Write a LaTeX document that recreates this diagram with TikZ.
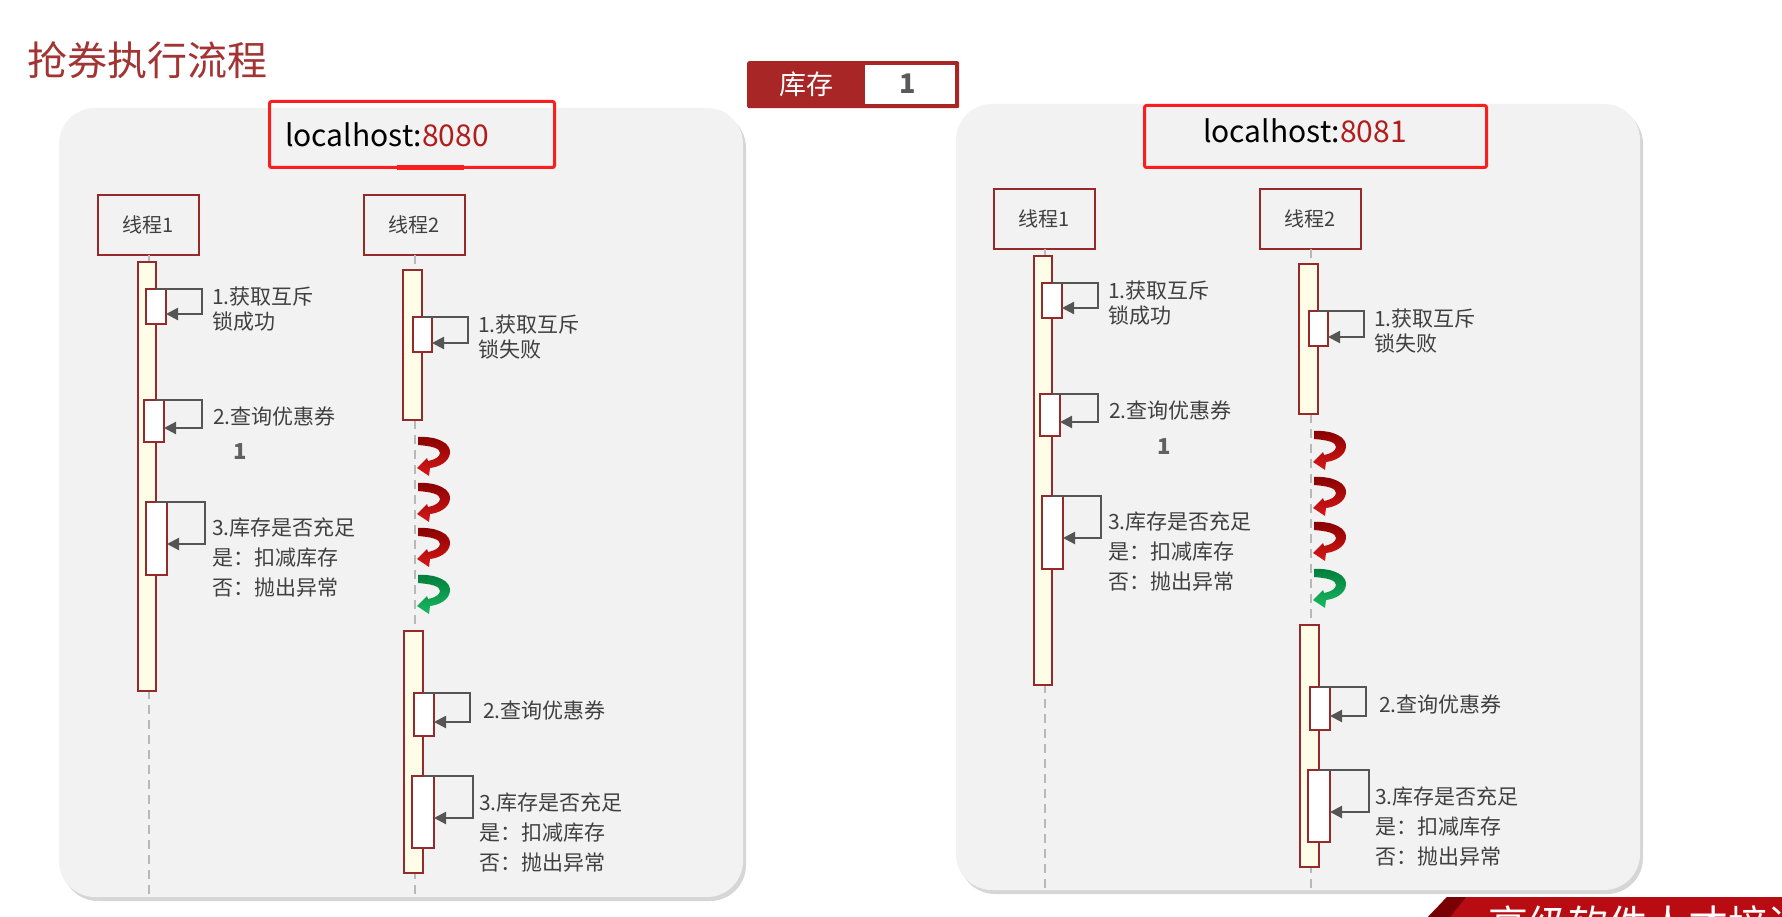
\documentclass[tikz,border=0pt]{standalone}
\usepackage{fontspec}
\newfontfamily\cjk{Noto Sans CJK SC}
\usetikzlibrary{calc,arrows.meta,shadows}
\definecolor{dred}{RGB}{168,38,38}
\definecolor{boxred}{RGB}{150,42,42}
\definecolor{hired}{RGB}{250,30,30}
\definecolor{panelgray}{RGB}{242,242,242}
\definecolor{barfill}{RGB}{255,253,232}
\definecolor{txtgray}{RGB}{64,64,64}
\definecolor{arrgray}{RGB}{85,85,85}
\definecolor{titlered}{RGB}{163,52,52}
\definecolor{numred}{RGB}{178,28,28}
\definecolor{spinrA}{RGB}{135,0,0}
\definecolor{spinrB}{RGB}{215,25,25}
\definecolor{spingA}{RGB}{0,125,60}
\definecolor{spingB}{RGB}{25,185,95}
\definecolor{bannerred}{RGB}{185,12,18}
\definecolor{bannerdark}{RGB}{120,0,5}
\tikzset{
  panel/.style={fill=panelgray, rounded corners=36pt, inner sep=0pt, outer sep=0pt, anchor=north west,
    drop shadow={shadow xshift=3pt, shadow yshift=-4pt, opacity=0.35, fill=black!45}},
  thbox/.style={draw=boxred, line width=1.8pt, fill=panelgray, inner sep=0pt, outer sep=0pt,
    minimum width=101pt, minimum height=60pt, anchor=north west,
    font=\cjk\fontsize{20}{24}\selectfont, text=txtgray},
  actbar/.style={draw=boxred, line width=1.8pt, fill=barfill, inner sep=0pt, outer sep=0pt, anchor=north west},
  subbox/.style={draw=boxred, line width=1.8pt, fill=white, inner sep=0pt, outer sep=0pt, anchor=north west},
  lifeline/.style={draw=black!28, line width=2pt, dash pattern=on 9pt off 6pt},
  loopar/.style={draw=arrgray, line width=2.2pt, -{Triangle[length=12pt,width=12pt]}},
  lbl/.style={font=\cjk\fontsize{21}{25}\selectfont, text=txtgray, anchor=west, align=left, inner sep=0pt},
  lbl3/.style={font=\cjk\fontsize{21}{30}\selectfont, text=txtgray, anchor=west, align=left, inner sep=0pt},
  onelbl/.style={font=\cjk\bfseries\fontsize{22}{26}\selectfont, text=black!62, inner sep=0pt},
  hostbox/.style={draw=hired, line width=3pt, rounded corners=2pt, inner sep=0pt, anchor=north west},
  hosttxt/.style={font=\cjk\fontsize{30}{34}\selectfont, text=black, anchor=base west, inner sep=0pt},
  spinr/.style={top color=spinrA, bottom color=spinrB},
  sping/.style={top color=spingA, bottom color=spingB},
  pics/spin/.style={code={
    \shade[spin#1] (0,0) .. controls (19,-1) and (33,6) .. (32,16)
      .. controls (31,25) and (21,30) .. (12,31) -- (11,39) -- (-1,31) -- (9,21) -- (10,24)
      .. controls (16,23) and (22,20) .. (22,16) .. controls (22,11) and (13,9) .. (0,8) -- cycle;
  }}
}
\newcommand\selfloop[4]{%
  \draw[loopar] (#1.east |- #2.north) -| ($(#2.north east)+(#3,#4)$) coordinate (#2r) -- (#2r -| #2.east);}
\newcommand\drawpanel[3]{%
  \node[thbox] (#1t1) at (98,195) {线程1};
  \node[thbox] (#1t2) at (364,195) {线程2};
  \draw[lifeline] (#1t1.south) -- (#1t1.south |- #1P.south);
  \draw[lifeline] (#1t2.south) -- (#1t2.south |- #1P.south);
  % thread 1
  \node[actbar, minimum width=18pt, minimum height=429pt] (#1b1) at (138,262) {};
  \node[subbox, minimum width=20pt, minimum height=35pt] (#1sA) at (146,289) {};
  \node[subbox, minimum width=20pt, minimum height=42pt] (#1sB) at (144,400) {};
  \node[subbox, minimum width=21pt, minimum height=73pt] (#1sC) at (146,502) {};
  \selfloop{#1b1}{#1sA}{36}{25}
  \selfloop{#1b1}{#1sB}{38}{28}
  \selfloop{#1b1}{#1sC}{38}{42}
  \node[lbl] (#1lA) at (212,309.5) {1.获取互斥\\锁成功};
  \node[lbl] (#1lB) at (213,416) {2.查询优惠券};
  \node[lbl3] (#1lC) at (212,558) {3.库存是否充足\\是：扣减库存\\否：抛出异常};
  \node[onelbl] (#1one) at (#2,#3) {1};
  % thread 2
  \node[actbar, minimum width=19pt, minimum height=150pt] (#1b2) at (403,270) {};
  \node[subbox, minimum width=19pt, minimum height=35pt] (#1sT) at (413,317) {};
  \selfloop{#1b2}{#1sT}{36}{26}
  \node[lbl] (#1lT) at (478,337) {1.获取互斥\\锁失败};
  \pic at (418,437) {spin=r};
  \pic at (418,483) {spin=r};
  \pic at (418,528) {spin=r};
  \pic at (418,575) {spin=g};
  \node[actbar, minimum width=19pt, minimum height=242pt] (#1b3) at (404,631) {};
  \node[subbox, minimum width=20pt, minimum height=43pt] (#1sD) at (414,693) {};
  \node[subbox, minimum width=22pt, minimum height=72pt] (#1sE) at (412,776) {};
  \selfloop{#1b3}{#1sD}{36}{29}
  \selfloop{#1b3}{#1sE}{39}{42}
  \node[lbl] (#1lD) at (483,710) {2.查询优惠券};
  \node[lbl3] (#1lE) at (479,833) {3.库存是否充足\\是：扣减库存\\否：抛出异常};
}
\begin{document}
\begin{tikzpicture}[x=1pt,y=-1pt]
\useasboundingbox (0,0) rectangle (1782,917);
\clip (0,0) rectangle (1782,917);
\fill[white] (0,0) rectangle (1782,917);
% title
\node[anchor=west, font=\cjk\fontsize{40}{44}\selectfont, text=titlered, inner sep=0pt] (title) at (27,60) {抢券执行流程};
% stock box
\node[fill=dred, rounded corners=2pt, minimum width=212pt, minimum height=47pt, anchor=north west, inner sep=0pt] (stock) at (747,61) {};
\node[fill=white, minimum width=90pt, minimum height=39pt, anchor=north west, inner sep=0pt] (stockv) at (865,65) {};
\node[text=white, font=\cjk\fontsize{27}{30}\selectfont, inner sep=0pt] (stockl) at (806,84) {库存};
\node[text=black!65, font=\cjk\bfseries\fontsize{27}{30}\selectfont, inner sep=0pt] (stockn) at (908,84) {1};
% panels
\node[panel, minimum width=684pt, minimum height=789pt] (LP) at (59,108) {};
\node[panel, minimum width=684pt, minimum height=786pt] (RP) at (956,104) {};
% left panel
\drawpanel{L}{240}{452}
\begin{scope}[shift={(896,-6)}]
\drawpanel{R}{268}{453}
\end{scope}
% host boxes
\fill[hired] (397,165) rectangle (464,170);
\node[hostbox, minimum width=285pt, minimum height=66pt] (LH) at (268,100) {};
\node[hosttxt] (LHt) at (285,147) {localhost:\textcolor{numred}{8080}};
\node[hostbox, minimum width=342pt, minimum height=62pt] (RH) at (1143,104) {};
\node[hosttxt] (RHt) at (1203,143) {localhost:\textcolor{numred}{8081}};
% banner
\fill[bannerred] (1447,897) -- (1782,897) -- (1782,917) -- (1428,917) -- cycle;
\fill[bannerdark] (1428,917) -- (1447,897) -- (1466,897) -- (1450,917) -- cycle;
\node[anchor=north west, text=white, font=\cjk\fontsize{40}{44}\selectfont, inner sep=0pt] (banner) at (1488,905) {高级软件人才培训专家};
\end{tikzpicture}
\end{document}
